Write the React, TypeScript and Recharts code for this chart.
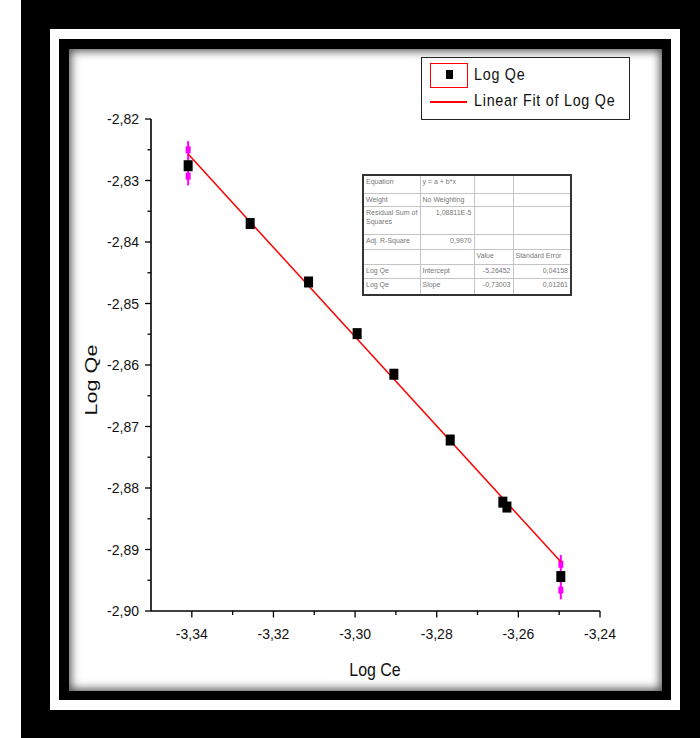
import React from 'react';
import { ScatterChart, Scatter, XAxis, YAxis, ErrorBar } from 'recharts';

// ---- data ----
const logCe = [-3.3409, -3.3257, -3.3114, -3.2995, -3.2905, -3.2767, -3.2638, -3.2628, -3.2496];
const logQe = [-2.8276, -2.837, -2.8465, -2.8549, -2.8615, -2.8722, -2.8823, -2.8831, -2.8944];

const fitX = [-3.3409, -3.2496];
const fitY = [-2.8257, -2.892];

const errX = [-3.3409, -3.2496];
const errY = [-2.8272, -2.8945];
const errSize = [0.0036, 0.0036];

const errMarkX = [-3.3409, -3.3409, -3.2496, -3.2496];
const errMarkY = [-2.825, -2.8293, -2.8924, -2.8966];

const xMajorTicks = [-3.34, -3.32, -3.3, -3.28, -3.26, -3.24];
const xMinorTicks = [-3.33, -3.31, -3.29, -3.27, -3.25];
const yMajorTicks = [-2.82, -2.83, -2.84, -2.85, -2.86, -2.87, -2.88, -2.89, -2.9];
const yMinorTicks = [-2.825, -2.835, -2.845, -2.855, -2.865, -2.875, -2.885, -2.895];

const xTitle = 'Log Ce';
const yTitle = 'Log Qe';
const legendLabels = ['Log Qe', 'Linear Fit of Log Qe'];

const tableRows = [
  ['Equation', 'y = a + b*x', '', ''],
  ['Weight', 'No Weighting', '', ''],
  ['Residual Sum of Squares', '1,08811E-5', '', ''],
  ['Adj. R-Square', '0,9970', '', ''],
  ['', '', 'Value', 'Standard Error'],
  ['Log Qe', 'Intercept', '-5,26452', '0,04158'],
  ['Log Qe', 'Slope', '-0,73003', '0,01261'],
];

// ---- built tables ----
const points = logCe.map((x, i) => ({ x, y: logQe[i] }));
const fitData = fitX.map((x, i) => ({ x, y: fitY[i] }));
const errData = errX.map((x, i) => ({ x, y: errY[i], e: errSize[i] }));
const errMarkData = errMarkX.map((x, i) => ({ x, y: errMarkY[i] }));

const fmt = (v: number) => v.toFixed(2).replace('.', ',');
const isMajor = (v: number, arr: number[]) => arr.some((a) => Math.abs(a - v) < 1e-9);

const tickFont = "'Liberation Sans', Arial, sans-serif";

const YTick = (props: any) => {
  const { x, y, payload } = props;
  const major = isMajor(payload.value, yMajorTicks);
  return (
    <g>
      <line x1={x - (major ? 6 : 3.5)} x2={x} y1={y} y2={y} stroke="#000" strokeWidth={1.3} />
      {major && (
        <text x={x - 12} y={y} dy={5} textAnchor="end" fontSize={14} fontFamily={tickFont} fill="#111">
          {fmt(payload.value)}
        </text>
      )}
    </g>
  );
};

const XTick = (props: any) => {
  const { x, y, payload } = props;
  const major = isMajor(payload.value, xMajorTicks);
  return (
    <g>
      <line x1={x} x2={x} y1={y} y2={y + (major ? 6.5 : 4)} stroke="#000" strokeWidth={1.3} />
      {major && (
        <text x={x} y={y + 28} textAnchor="middle" fontSize={14} fontFamily={tickFont} fill="#111">
          {fmt(payload.value)}
        </text>
      )}
    </g>
  );
};

const SquareShape = (props: any) => {
  const { cx, cy } = props;
  if (cx == null || cy == null) return <g />;
  return <rect x={cx - 4.5} y={cy - 5.5} width={9} height={11} fill="#000" />;
};

const MagentaShape = (props: any) => {
  const { cx, cy } = props;
  if (cx == null || cy == null) return <g />;
  return <rect x={cx - 2.5} y={cy - 3.5} width={5} height={7} fill="#ff00ff" />;
};

const NoShape = () => <g />;

const rowHeights = [18, 13, 28, 15, 15, 14, 17];
const colWidths = [57, 54, 39, 58];

const legendText: React.CSSProperties = {
  position: 'absolute',
  left: 52,
  fontFamily: tickFont,
  fontSize: 17,
  letterSpacing: 0.9,
  color: '#111',
  whiteSpace: 'nowrap',
  lineHeight: '22px',
  transform: 'scaleX(0.84)',
  transformOrigin: 'left center',
};

export default function App() {
  return (
    <div style={{ position: 'absolute', left: 0, top: 0, width: 700, height: 738, background: '#fff', overflow: 'hidden' }}>
      <div style={{ position: 'absolute', left: 21, top: 0, width: 679, height: 738, background: '#000' }} />
      <div style={{ position: 'absolute', left: 50, top: 29, width: 630, height: 681, background: '#fff' }} />
      <div style={{ position: 'absolute', left: 59, top: 39, width: 612, height: 661, background: '#000' }} />
      <div
        style={{
          position: 'absolute',
          left: 69,
          top: 49,
          width: 593,
          height: 642,
          background: '#fff',
          boxShadow: 'inset 0 0 10px 2px rgba(0,0,0,0.7)',
        }}
      />
      <div style={{ position: 'absolute', left: 0, top: 0 }}>
        <ScatterChart width={700} height={738} margin={{ top: 119, right: 100, bottom: 97, left: 91 }}>
          <XAxis
            type="number"
            dataKey="x"
            domain={[-3.35, -3.24]}
            allowDataOverflow
            ticks={[...xMajorTicks, ...xMinorTicks]}
            interval={0}
            tickSize={0}
            tickMargin={0}
            tick={<XTick />}
            height={30}
            axisLine={{ stroke: '#000', strokeWidth: 1.6 }}
          />
          <YAxis
            type="number"
            dataKey="y"
            domain={[-2.9, -2.82]}
            allowDataOverflow
            ticks={[...yMajorTicks, ...yMinorTicks]}
            interval={0}
            tickSize={0}
            tickMargin={0}
            tick={<YTick />}
            width={60}
            axisLine={{ stroke: '#000', strokeWidth: 1.6 }}
          />
          <Scatter data={errData} shape={<NoShape />} isAnimationActive={false}>
            <ErrorBar dataKey="e" direction="y" width={0} stroke="#ff00ff" strokeWidth={2} isAnimationActive={false} />
          </Scatter>
          <Scatter data={errMarkData} shape={<MagentaShape />} isAnimationActive={false} />
          <Scatter
            data={fitData}
            shape={<NoShape />}
            line={{ stroke: '#ff0000', strokeWidth: 1.5 }}
            lineType="joint"
            isAnimationActive={false}
          />
          <Scatter data={points} shape={<SquareShape />} isAnimationActive={false} />
        </ScatterChart>
      </div>

      {/* axis titles */}
      <div
        style={{
          position: 'absolute',
          left: 375,
          top: 670,
          transform: 'translate(-50%, -50%) scaleX(0.84)',
          fontFamily: tickFont,
          fontSize: 19,
          color: '#111',
          whiteSpace: 'nowrap',
        }}
      >
        {xTitle}
      </div>
      <div
        style={{
          position: 'absolute',
          left: 92,
          top: 380,
          transform: 'translate(-50%, -50%) rotate(-90deg) scaleX(1.35)',
          fontFamily: tickFont,
          fontSize: 16,
          color: '#111',
          whiteSpace: 'nowrap',
        }}
      >
        {yTitle}
      </div>

      {/* legend */}
      <div
        style={{
          position: 'absolute',
          left: 421,
          top: 57,
          width: 207,
          height: 61,
          border: '1.5px solid #222',
          background: '#fff',
        }}
      >
        <div style={{ position: 'absolute', left: 8, top: 5, width: 36, height: 23, border: '1.5px solid #ff0000' }} />
        <div style={{ position: 'absolute', left: 24, top: 12, width: 7, height: 9, background: '#000' }} />
        <div style={{ ...legendText, top: 6 }}>{legendLabels[0]}</div>
        <div style={{ position: 'absolute', left: 8, top: 43, width: 37, height: 1.5, background: '#ff0000' }} />
        <div style={{ ...legendText, top: 32 }}>{legendLabels[1]}</div>
      </div>

      {/* fit statistics table */}
      <table
        style={{
          position: 'absolute',
          left: 362,
          top: 174,
          borderCollapse: 'collapse',
          tableLayout: 'fixed',
          border: '2px solid #333',
          background: '#fff',
          fontFamily: tickFont,
          fontSize: 7,
          color: '#777',
        }}
      >
        <colgroup>
          {colWidths.map((w, i) => (
            <col key={i} style={{ width: w }} />
          ))}
        </colgroup>
        <tbody>
          {tableRows.map((row, r) => (
            <tr key={r} style={{ height: rowHeights[r] }}>
              {row.map((cell, c) => {
                const numeric = /^-?[0-9]/.test(cell);
                return (
                  <td
                    key={c}
                    style={{
                      border: '1px solid #c4c4c4',
                      padding: '1px 2px',
                      verticalAlign: 'top',
                      textAlign: numeric ? 'right' : 'left',
                      lineHeight: '9px',
                      overflow: 'hidden',
                      whiteSpace: r === 2 && c === 0 ? 'normal' : 'nowrap',
                    }}
                  >
                    {cell}
                  </td>
                );
              })}
            </tr>
          ))}
        </tbody>
      </table>
    </div>
  );
}
